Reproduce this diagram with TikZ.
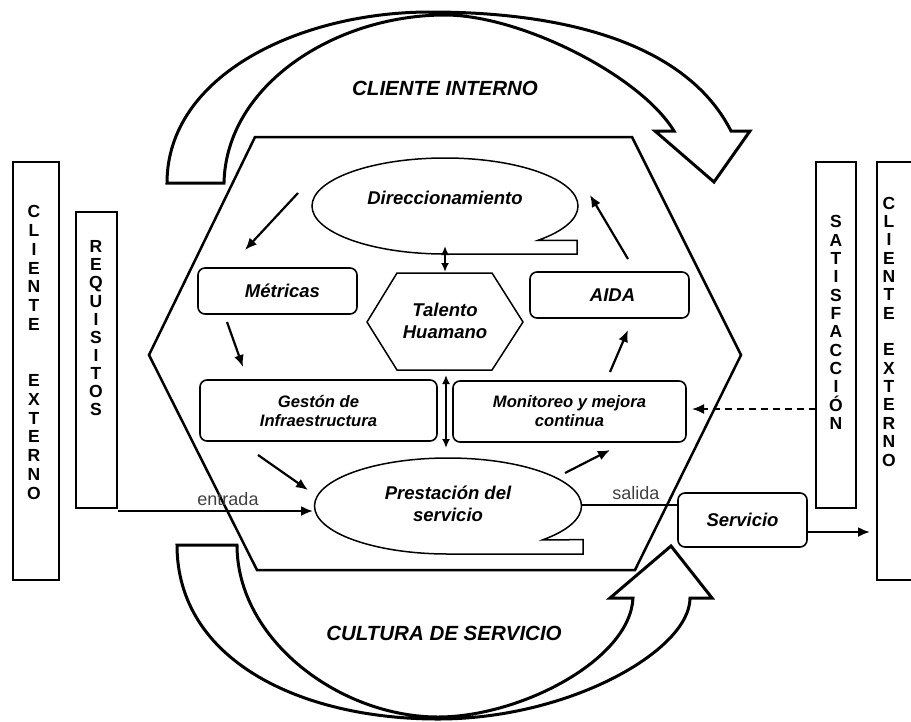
\documentclass[tikz,border=0pt]{standalone}
\usepackage{fontspec}
\setmainfont{Liberation Sans}
\usetikzlibrary{arrows.meta,shapes.geometric}

\begin{document}
\begin{tikzpicture}[x=1pt,y=-1pt,
  box/.style={draw, line width=1.6pt, rounded corners=7pt, inner sep=0pt, align=center,
              font=\bfseries\itshape\fontsize{18.5}{21}\selectfont},
  smallbox/.style={box, font=\bfseries\itshape\fontsize{16.6}{19}\selectfont},
  column/.style={draw, line width=1.6pt, inner sep=0pt},
  letters/.style={align=center, inner sep=0pt},
  inner/.style={align=center, inner sep=0pt, font=\bfseries\itshape\fontsize{18.5}{21.7}\selectfont},
  flow/.style={-{Latex[length=12pt,width=10pt]}, line width=2.2pt},
  twoway/.style={{Latex[length=9pt,width=8pt]}-{Latex[length=9pt,width=8pt]}, line width=1.8pt},
  bigarrow/.style={draw, line width=3pt, fill=white, line join=miter},
  title/.style={font=\bfseries\itshape\fontsize{20.5}{24}\selectfont},
  flowlabel/.style={inner sep=0pt, font=\fontsize{18}{21}\selectfont, text=black!75},
]

\useasboundingbox (0,0) rectangle (911,721);
\clip (0,0) rectangle (911,721);

% ---- curved arrow on top: internal client ----
\draw[bigarrow] (167,183) .. controls (167,75) and (300,12) .. (430,12)
  .. controls (580,12) and (690,50) .. (731,131)
  -- (750,131) -- (714,182) -- (655,131) -- (674,131)
  .. controls (640,75) and (520,15) .. (445,15)
  .. controls (335,15) and (226,85) .. (224,183) -- cycle;
\node[title] (interno) at (445,88) {CLIENTE INTERNO};

% ---- curved arrow at the bottom: service culture ----
\draw[bigarrow] (177,545) .. controls (177,660) and (300,719) .. (438,719)
  .. controls (570,719) and (690,650) .. (690,598)
  -- (712,598) -- (671,546) -- (610,598) -- (633,598)
  .. controls (630,660) and (520,717) .. (438,717)
  .. controls (340,717) and (237,640) .. (237,545) -- cycle;
\node[title] (cultura) at (444,633) {CULTURA DE SERVICIO};

% ---- process hexagon ----
\draw[line width=2.5pt, line join=miter]
  (255,137) -- (632,137) -- (741,355) -- (635,570) -- (257,570) -- (149,355) -- cycle;

% ---- oval callouts ----
\draw[line width=1.5pt, fill=white] (445,254) arc[start angle=90, end angle=405.6, x radius=133, y radius=48]
  -- (577,240.3) -- (577,254) -- cycle;
\node[inner] (direc) at (445,198) {Direccionamiento};

\draw[line width=1.5pt, fill=white] (448,554) arc[start angle=90, end angle=404.8, x radius=133.5, y radius=48]
  -- (583,539.7) -- (583,554) -- cycle;
\node[inner] (prest) at (448,504) {Prestación del\\servicio};

% ---- central hexagon ----
\draw[line width=1.5pt] (397,273) -- (492,273) -- (523,322) -- (492,370) -- (397,370) -- (367,322) -- cycle;
\node[inner] (talento) at (445,321) {Talento\\Huamano};

% ---- boxes ----
\node[box, minimum width=159pt, minimum height=46pt] (metricas) at (277.5,291) {\hspace*{10pt}Métricas};
\node[box, minimum width=159pt, minimum height=46pt] (aida) at (609.5,295) {\hspace*{6pt}AIDA};
\node[smallbox, minimum width=237pt, minimum height=61pt] (gestion) at (318.5,410.5) {Gestón de\\Infraestructura};
\node[smallbox, minimum width=233pt, minimum height=61pt] (monitoreo) at (569.5,411.5) {Monitoreo y mejora\\continua};
\node[box, minimum width=129pt, minimum height=54pt] (servicio) at (742.5,520) {Servicio};

% ---- side columns ----
\node[column, minimum width=46pt, minimum height=418pt] (clienteA) at (36,371) {};
\node[letters, font=\bfseries\fontsize{17.5}{18.75}\selectfont] (clienteAtxt) at (34,352.4)
  {C\\L\\I\\E\\N\\T\\E\\[37.5pt]E\\X\\T\\E\\R\\N\\O};
\node[column, minimum width=41pt, minimum height=296pt] (requisitos) at (96.5,360) {};
\node[letters, font=\bfseries\fontsize{17.5}{18.14}\selectfont] (requisitostxt) at (96,328.4)
  {R\\E\\Q\\U\\I\\S\\I\\T\\O\\S};
\node[column, minimum width=40pt, minimum height=346pt] (satisf) at (836,335) {};
\node[letters, font=\bfseries\fontsize{17.5}{18.33}\selectfont] (satisftxt) at (836,322.5)
  {S\\A\\T\\I\\S\\F\\A\\C\\C\\I\\Ó\\N};
\node[column, minimum width=60pt, minimum height=418pt] (clienteB) at (907,371) {};
\node[letters, font=\bfseries\fontsize{17.5}{18.36}\selectfont] (clienteBtxt) at (889,331.5)
  {C\\L\\I\\E\\N\\T\\E\\[18.36pt]E\\X\\T\\E\\R\\N\\O};

% ---- connector end points ----
\coordinate (dirOut) at (298,193);   \coordinate (metIn) at (245,250);
\coordinate (metOut) at (227,322);   \coordinate (gesIn) at (243,367);
\coordinate (gesOut) at (258,455);   \coordinate (preIn) at (308,490);
\coordinate (preOut) at (565,473);   \coordinate (monIn) at (610,450);
\coordinate (monOut) at (610,372);   \coordinate (aidIn) at (628,330);
\coordinate (aidOut) at (628,259);   \coordinate (dirIn) at (590,195);
\coordinate (dirBot) at (445,246);   \coordinate (talTop) at (445,272);
\coordinate (talBot) at (446,375);   \coordinate (preTop) at (446,448);
\coordinate (reqOut) at (118,511);   \coordinate (preLeft) at (313,511);
\coordinate (preRight) at (582,505); \coordinate (serIn) at (678,505);
\coordinate (serOut) at (807,532);   \coordinate (cliIn) at (870,532);
\coordinate (satOut) at (816,409);   \coordinate (monRight) at (692,409);

% ---- connectors ----
\draw[flow] (dirOut) -- (metIn);
\draw[flow] (metOut) -- (gesIn);
\draw[flow] (gesOut) -- (preIn);
\draw[flow] (preOut) -- (monIn);
\draw[flow] (monOut) -- (aidIn);
\draw[flow] (aidOut) -- (dirIn);
\draw[twoway] (dirBot) -- (talTop);
\draw[twoway] (talBot) -- (preTop);
\draw[flow] (reqOut) -- (preLeft);
\draw[line width=2pt] (preRight) -- (serIn);
\draw[flow] (serOut) -- (cliIn);
\draw[flow, line width=1.8pt, dash pattern=on 7pt off 5pt] (satOut) -- (monRight);

\node[flowlabel] (entrada) at (228,499) {entrada};
\node[flowlabel] (salida) at (636,493) {salida};

\end{tikzpicture}
\end{document}
